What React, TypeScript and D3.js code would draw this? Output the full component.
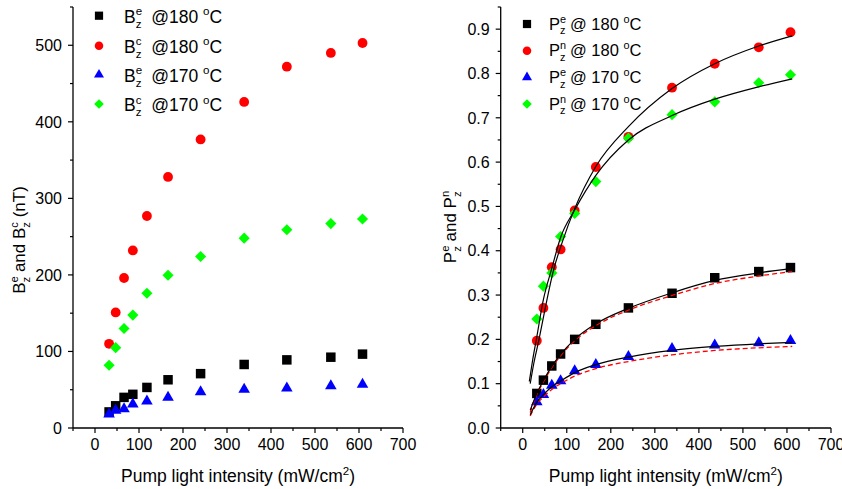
import React from 'react';
import * as d3 from 'd3';

const FONT = 'Arial, "Liberation Sans", Helvetica, sans-serif';

// pump light intensity (mW/cm2), same for every series
const intensity = [32, 47, 66, 86, 118, 166, 240, 339, 436, 536, 608];

// left panel: Bz in nT
const bzE180 = [21, 29, 40, 44, 53, 63, 71, 83, 89, 92.5, 96.5];
const bzC180 = [110, 151, 196, 232, 277, 328, 377, 426, 472, 490, 503];
const bzE170 = [18, 23, 25, 31, 35, 40, 47, 50.5, 52, 55, 57];
const bzC170 = [82, 105, 130, 147.5, 176, 199.5, 224, 248, 259, 267, 273];

// right panel: polarization
const pzE180 = [0.078, 0.108, 0.14, 0.167, 0.2, 0.234, 0.271, 0.304, 0.339, 0.353, 0.362];
const pzN180 = [0.197, 0.271, 0.363, 0.403, 0.491, 0.589, 0.657, 0.768, 0.822, 0.859, 0.893];
const pzE170 = [0.059, 0.075, 0.096, 0.106, 0.129, 0.143, 0.161, 0.179, 0.187, 0.192, 0.197];
const pzN170 = [0.246, 0.32, 0.35, 0.432, 0.484, 0.556, 0.654, 0.707, 0.736, 0.779, 0.797];

// fitted curves
const fitN180X = [17, 25, 37, 50, 71, 90, 118, 166, 240, 339, 436, 536, 612];
const fitN180Y = [0.1, 0.145, 0.2, 0.265, 0.36, 0.42, 0.495, 0.59, 0.68, 0.766, 0.822, 0.862, 0.885];
const fitN170X = [15, 22, 31, 47, 66, 86, 118, 166, 240, 339, 436, 536, 612];
const fitN170Y = [0.105, 0.15, 0.2, 0.29, 0.36, 0.43, 0.492, 0.57, 0.65, 0.705, 0.742, 0.77, 0.788];
const fitE180X = [17, 32, 47, 66, 86, 118, 166, 240, 339, 436, 536, 612];
const fitE180Y = [0.04, 0.078, 0.107, 0.139, 0.166, 0.2, 0.235, 0.27, 0.305, 0.333, 0.35, 0.36];
const dashE180Y = [0.035, 0.075, 0.104, 0.136, 0.163, 0.197, 0.231, 0.266, 0.299, 0.326, 0.343, 0.353];
const fitE170X = [17, 32, 47, 66, 86, 118, 166, 240, 339, 436, 536, 612];
const fitE170Y = [0.03, 0.058, 0.075, 0.093, 0.106, 0.125, 0.143, 0.16, 0.175, 0.184, 0.19, 0.193];
const dashE170Y = [0.027, 0.054, 0.07, 0.087, 0.1, 0.117, 0.134, 0.15, 0.165, 0.175, 0.181, 0.184];

const xMajor = [0, 100, 200, 300, 400, 500, 600, 700];
const xMinor = [-50, 50, 150, 250, 350, 450, 550, 650];
const bzMajor = [0, 100, 200, 300, 400, 500];
const bzMinor = [50, 150, 250, 350, 450, 550];
const pzMajor = [0, 0.1, 0.2, 0.3, 0.4, 0.5, 0.6, 0.7, 0.8, 0.9];
const pzMinor = [0.05, 0.15, 0.25, 0.35, 0.45, 0.55, 0.65, 0.75, 0.85, 0.95];

type Shape = 'square' | 'circle' | 'triangle' | 'diamond';
const COLORS: Record<Shape, string> = { square: '#000000', circle: '#ff0000', triangle: '#0000ff', diamond: '#00ff00' };

function symbolPath(shape: Shape, scale: number) {
  const t = shape === 'square' || shape === 'diamond' ? d3.symbolSquare
    : shape === 'circle' ? d3.symbolCircle : d3.symbolTriangle;
  const size = { square: 90, circle: 76, triangle: 58, diamond: 62 }[shape] * scale;
  return d3.symbol().type(t).size(size)() as string;
}

function Marker({ x, y, shape, scale = 1 }: { x: number; y: number; shape: Shape; scale?: number }) {
  const rot = shape === 'diamond' ? ' rotate(45)' : '';
  return <path d={symbolPath(shape, scale)} transform={`translate(${x},${y})${rot}`} fill={COLORS[shape]} />;
}

type Seg = { t?: string; sup?: string; sub?: string };
const supW: Record<string, number> = { e: 0.556, c: 0.5, n: 0.556, o: 0.556 };

function Rich({ x, y, size, segs, anchor = 'start', rotate = false }:
  { x: number; y: number; size: number; segs: Seg[]; anchor?: string; rotate?: boolean }) {
  const kids: any[] = [];
  let shift = 0;
  const small = size * 0.66;
  segs.forEach((s, i) => {
    if (s.t) {
      kids.push(<tspan key={i + 't'} fontSize={size} dy={-shift}>{s.t}</tspan>);
      shift = 0;
    }
    if (s.sup) {
      const dy = -0.42 * size;
      kids.push(<tspan key={i + 'p'} fontSize={small} dy={dy - shift}>{s.sup}</tspan>);
      shift = dy;
    }
    if (s.sub) {
      const dy = 0.3 * size;
      const dx = s.sup ? -(supW[s.sup] || 0.55) * small : 0;
      kids.push(<tspan key={i + 'b'} fontSize={small} dx={dx} dy={dy - shift}>{s.sub}</tspan>);
      shift = dy;
    }
  });
  return (
    <text x={rotate ? 0 : x} y={rotate ? 0 : y} transform={rotate ? `translate(${x},${y}) rotate(-90)` : undefined}
      textAnchor={anchor} fontFamily={FONT} fontSize={size} fill="#000" style={{ whiteSpace: 'pre' }}>
      {kids}
    </text>
  );
}

type Series = { y: number[]; shape: Shape };
type Curve = { x: number[]; y: number[]; dashed?: boolean };

function Panel({ xr, yDomain, yMajor, yMinor, fmt, series, curves }:
  { xr: [number, number]; yDomain: [number, number]; yMajor: number[]; yMinor: number[];
    fmt: (v: number) => string; series: Series[]; curves: Curve[] }) {
  const x = d3.scaleLinear().domain([-50, 700]).range(xr);
  const y = d3.scaleLinear().domain(yDomain).range([428, 7]);
  const line = d3.line<[number, number]>().x(d => x(d[0])).y(d => y(d[1])).curve(d3.curveMonotoneX);
  const y0 = y(0);
  const x0 = xr[0];
  return (
    <g>
      {series.map((s, si) => (
        <g key={si}>
          {intensity.map((v, i) => <Marker key={i} x={x(v)} y={y(s.y[i])} shape={s.shape} />)}
        </g>
      ))}
      {curves.map((c, i) => (
        <path key={i} d={line(c.x.map((v, j) => [v, c.y[j]]) as [number, number][]) as string}
          fill="none" stroke={c.dashed ? '#ff0000' : '#000'} strokeWidth={c.dashed ? 1.3 : 1.2}
          strokeDasharray={c.dashed ? '5,3' : undefined} />
      ))}
      <line x1={x0} x2={xr[1]} y1={y0} y2={y0} stroke="#000" strokeWidth={1.3} />
      <line x1={x0} x2={x0} y1={y0} y2={7} stroke="#000" strokeWidth={1.3} />
      {xMajor.map(v => (
        <g key={'xm' + v}>
          <line x1={x(v)} x2={x(v)} y1={y0} y2={y0 + 5} stroke="#000" strokeWidth={1.2} />
          <text x={x(v)} y={450} textAnchor="middle" fontFamily={FONT} fontSize={16}>{v}</text>
        </g>
      ))}
      {xMinor.map(v => (
        <line key={'xn' + v} x1={x(v)} x2={x(v)} y1={y0} y2={y0 + 3} stroke="#000" strokeWidth={1.2} />
      ))}
      {yMajor.map(v => (
        <g key={'ym' + v}>
          <line x1={x0 - 5} x2={x0} y1={y(v)} y2={y(v)} stroke="#000" strokeWidth={1.2} />
          <text x={x0 - 11} y={y(v)} dy="0.36em" textAnchor="end" fontFamily={FONT} fontSize={16}>{fmt(v)}</text>
        </g>
      ))}
      {yMinor.map(v => (
        <line key={'yn' + v} x1={x0 - 3} x2={x0} y1={y(v)} y2={y(v)} stroke="#000" strokeWidth={1.2} />
      ))}
      <Rich x={(xr[0] + xr[1]) / 2} y={482} size={17.5} anchor="middle"
        segs={[{ t: 'Pump light intensity (mW/cm', sup: '2' }, { t: ')' }]} />
    </g>
  );
}

export default function App() {
  const shapes: Shape[] = ['square', 'circle', 'triangle', 'diamond'];
  const leftRows = [15.7, 45.7, 74.7, 104];
  const rightRows = [24, 50.7, 77.3, 104];
  const leftLegend: Seg[][] = [
    [{ t: 'B', sup: 'e', sub: 'z' }, { t: '  @180 ', sup: 'o' }, { t: 'C' }],
    [{ t: 'B', sup: 'c', sub: 'z' }, { t: '  @180 ', sup: 'o' }, { t: 'C' }],
    [{ t: 'B', sup: 'e', sub: 'z' }, { t: '  @170 ', sup: 'o' }, { t: 'C' }],
    [{ t: 'B', sup: 'c', sub: 'z' }, { t: '  @170 ', sup: 'o' }, { t: 'C' }],
  ];
  const rightLegend: Seg[][] = [
    [{ t: 'P', sup: 'e', sub: 'z' }, { t: ' @ 180 ', sup: 'o' }, { t: 'C' }],
    [{ t: 'P', sup: 'n', sub: 'z' }, { t: ' @ 180 ', sup: 'o' }, { t: 'C' }],
    [{ t: 'P', sup: 'e', sub: 'z' }, { t: ' @ 170 ', sup: 'o' }, { t: 'C' }],
    [{ t: 'P', sup: 'n', sub: 'z' }, { t: ' @ 170 ', sup: 'o' }, { t: 'C' }],
  ];
  return (
    <svg width={842} height={489} style={{ position: 'absolute', left: 0, top: 0, background: '#fff' }}>
      <Panel xr={[73, 403]} yDomain={[0, 550]} yMajor={bzMajor} yMinor={bzMinor} fmt={d3.format('d')}
        series={[
          { y: bzE180, shape: 'square' }, { y: bzC180, shape: 'circle' },
          { y: bzE170, shape: 'triangle' }, { y: bzC170, shape: 'diamond' },
        ]}
        curves={[]} />
      <Panel xr={[500.7, 831]} yDomain={[0, 0.95]} yMajor={pzMajor} yMinor={pzMinor} fmt={d3.format('.1f')}
        series={[
          { y: pzE180, shape: 'square' }, { y: pzN180, shape: 'circle' },
          { y: pzE170, shape: 'triangle' }, { y: pzN170, shape: 'diamond' },
        ]}
        curves={[
          { x: fitN180X, y: fitN180Y }, { x: fitN170X, y: fitN170Y },
          { x: fitE180X, y: dashE180Y, dashed: true }, { x: fitE180X, y: fitE180Y },
          { x: fitE170X, y: dashE170Y, dashed: true }, { x: fitE170X, y: fitE170Y },
        ]} />
      {shapes.map((s, i) => (
        <g key={'ll' + i}>
          <Marker x={99} y={leftRows[i]} shape={s} scale={0.75} />
          <Rich x={124} y={leftRows[i] + 7} size={17.5} segs={leftLegend[i]} />
          <Marker x={527} y={rightRows[i]} shape={s} scale={0.75} />
          <Rich x={549} y={rightRows[i] + 5.5} size={16.5} segs={rightLegend[i]} />
        </g>
      ))}
      <Rich x={25} y={240} size={17} anchor="middle" rotate
        segs={[{ t: 'B', sup: 'e', sub: 'z' }, { t: ' and B', sup: 'c', sub: 'z' }, { t: ' (nT)' }]} />
      <Rich x={456} y={227} size={17} anchor="middle" rotate
        segs={[{ t: 'P', sup: 'e', sub: 'z' }, { t: ' and P', sup: 'n', sub: 'z' }]} />
    </svg>
  );
}
